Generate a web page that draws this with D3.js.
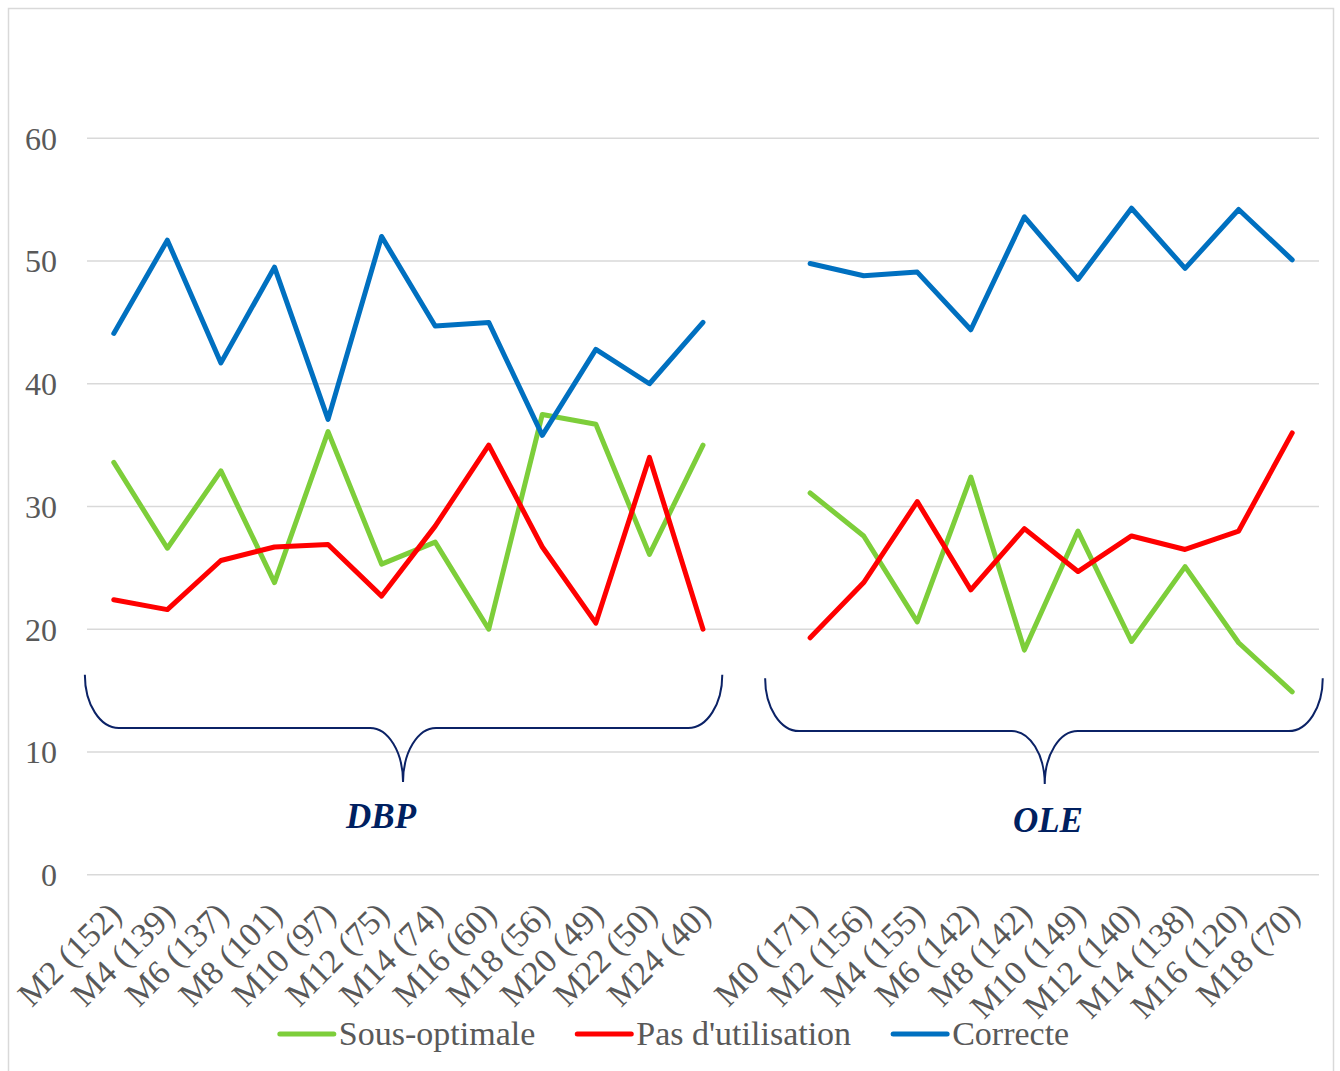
<!DOCTYPE html>
<html>
<head>
<meta charset="utf-8">
<script src="https://cdn.jsdelivr.net/npm/d3@7"></script>
<style>
  html, body { margin: 0; padding: 0; background: #fff; }
  svg { display: block; }
  text { font-family: "Liberation Serif", "Times New Roman", serif; }
</style>
</head>
<body>
<svg id="chart" width="1340" height="1071"></svg>
<script>
// Category labels: DBP follow-up visits, an empty separator slot, then OLE visits
const dbpLabels = ["M2 (152)", "M4 (139)", "M6 (137)", "M8 (101)", "M10 (97)", "M12 (75)",
                   "M14 (74)", "M16 (60)", "M18 (56)", "M20 (49)", "M22 (50)", "M24 (40)"];
const oleLabels = ["M0 (171)", "M2 (156)", "M4 (155)", "M6 (142)", "M8 (142)", "M10 (149)",
                   "M12 (140)", "M14 (138)", "M16 (120)", "M18 (70)"];
const categories = [...dbpLabels, "", ...oleLabels];

// Percentages per series (DBP then OLE)
const sousOptimaleDBP = [33.6, 26.6, 32.9, 23.8, 36.1, 25.3, 27.1, 20.0, 37.5, 36.7, 26.1, 35.0];
const sousOptimaleOLE = [31.1, 27.6, 20.6, 32.4, 18.3, 28.0, 19.0, 25.1, 18.9, 14.9];
const pasUtilDBP      = [22.4, 21.6, 25.6, 26.7, 26.9, 22.7, 28.4, 35.0, 26.7, 20.5, 34.0, 20.0];
const pasUtilOLE      = [19.3, 23.8, 30.4, 23.2, 28.2, 24.7, 27.6, 26.5, 28.0, 36.0];
const correcteDBP     = [44.1, 51.7, 41.7, 49.5, 37.1, 52.0, 44.7, 45.0, 35.8, 42.8, 40.0, 45.0];
const correcteOLE     = [49.8, 48.8, 49.1, 44.4, 53.6, 48.5, 54.3, 49.4, 54.2, 50.1];

const yTicks = [0, 10, 20, 30, 40, 50, 60];

const seriesNames = ["Sous-optimale", "Pas d'utilisation", "Correcte"];
const seriesColors = ["#7dce3a", "#ff0000", "#0070c0"];

// Group annotations (brace) in category-index / value units
const groupNames = ["DBP", "OLE"];
const braceLeft  = [-0.54, 12.16];
const braceRight = [11.36, 22.57];
const braceTip   = [5.40, 17.38];
const braceTop   = [16.3, 16.0];
const braceMid   = [11.95, 11.7];
const braceBottom= [7.55, 7.4];
const groupLabelX = [4.99, 17.44];
const groupLabelY = [3.8, 3.5];

// Build full-length series with a null at the separator slot
const joinSeries = (a, b) => [...a, null, ...b];
const seriesValues = [
  joinSeries(sousOptimaleDBP, sousOptimaleOLE),
  joinSeries(pasUtilDBP, pasUtilOLE),
  joinSeries(correcteDBP, correcteOLE)
];

const svg = d3.select("#chart");

// Outer chart frame
svg.append("rect")
  .attr("x", 8.5).attr("y", 8.5)
  .attr("width", 1325).attr("height", 1080)
  .attr("fill", "#fff").attr("stroke", "#d9d9d9").attr("stroke-width", 1.5);

const plot = { left: 87, right: 1319, top: 138.3, bottom: 874.7 };

const x = d3.scalePoint()
  .domain(d3.range(categories.length))
  .range([plot.left, plot.right])
  .padding(0.5);

const xi = d3.scaleLinear()
  .domain([0, categories.length - 1])
  .range([x(0), x(categories.length - 1)]);

const y = d3.scaleLinear()
  .domain([0, 60])
  .range([plot.bottom, plot.top]);

// Horizontal gridlines
svg.append("g")
  .selectAll("line")
  .data(yTicks)
  .join("line")
  .attr("x1", plot.left).attr("x2", plot.right)
  .attr("y1", d => y(d)).attr("y2", d => y(d))
  .attr("stroke", "#d9d9d9").attr("stroke-width", 1.5);

// Y axis labels
const yAxis = svg.append("g")
  .attr("transform", `translate(${plot.left - 30},0)`)
  .call(d3.axisLeft(y).tickValues(yTicks).tickSize(0).tickPadding(0));
yAxis.select(".domain").remove();
yAxis.selectAll("text")
  .attr("font-family", "Liberation Serif, serif")
  .attr("font-size", 32)
  .attr("fill", "#595959")
  .attr("dy", "0.34em");

// X axis labels, rotated
const xAxis = svg.append("g")
  .attr("transform", `translate(0,${plot.bottom})`)
  .call(d3.axisBottom(x).tickFormat(i => categories[i]).tickSize(0).tickPadding(0));
xAxis.select(".domain").remove();
xAxis.selectAll("text")
  .attr("font-family", "Liberation Serif, serif")
  .attr("font-size", 34)
  .attr("fill", "#595959")
  .attr("text-anchor", "end")
  .attr("dy", 0)
  .attr("y", 0)
  .attr("transform", "translate(9,42) rotate(-45)");

// Series lines
const line = d3.line()
  .defined(d => d != null)
  .x((d, i) => x(i))
  .y(d => y(d));

svg.append("g")
  .selectAll("path")
  .data(seriesValues)
  .join("path")
  .attr("d", d => line(d))
  .attr("fill", "none")
  .attr("stroke", (d, i) => seriesColors[i])
  .attr("stroke-width", 5)
  .attr("stroke-linejoin", "round")
  .attr("stroke-linecap", "round");

// Group braces
function bracePath(k) {
  const x0 = xi(braceLeft[k]), x1 = xi(braceRight[k]), xm = xi(braceTip[k]);
  const yt = y(braceTop[k]), ym = y(braceMid[k]), yb = y(braceBottom[k]);
  const r = 34;
  const rx = 33;
  return `M${x0},${yt}` +
    `A${r},${ym - yt} 0 0 0 ${x0 + r},${ym}` +
    `L${xm - rx},${ym}` +
    `A${rx},${yb - ym} 0 0 1 ${xm},${yb}` +
    `A${rx},${yb - ym} 0 0 1 ${xm + rx},${ym}` +
    `L${x1 - r},${ym}` +
    `A${r},${ym - yt} 0 0 0 ${x1},${yt}`;
}

svg.append("g")
  .selectAll("path")
  .data(groupNames)
  .join("path")
  .attr("d", (d, k) => bracePath(k))
  .attr("fill", "none")
  .attr("stroke", "#0b2266")
  .attr("stroke-width", 2);

svg.append("g")
  .selectAll("text")
  .data(groupNames)
  .join("text")
  .attr("x", (d, k) => xi(groupLabelX[k]))
  .attr("y", (d, k) => y(groupLabelY[k]))
  .attr("text-anchor", "middle")
  .attr("font-family", "Liberation Serif, serif")
  .attr("font-weight", "bold")
  .attr("font-style", "italic")
  .attr("font-size", 35)
  .attr("fill", "#002060")
  .text(d => d);

// Legend
const legend = svg.append("g");
const legendY = 1034;
const items = legend.selectAll("g")
  .data(seriesNames)
  .join("g");
items.append("line")
  .attr("x1", 0).attr("x2", 54)
  .attr("y1", legendY).attr("y2", legendY)
  .attr("stroke", (d, i) => seriesColors[i])
  .attr("stroke-width", 5)
  .attr("stroke-linecap", "round");
items.append("text")
  .attr("x", 59)
  .attr("y", legendY + 11)
  .attr("font-family", "Liberation Serif, serif")
  .attr("font-size", 34)
  .attr("fill", "#595959")
  .text(d => d);

let offset = 0;
const widths = [];
items.each(function () {
  const w = 59 + this.querySelector("text").getComputedTextLength();
  widths.push(w);
});
const gap = 42;
const total = d3.sum(widths) + gap * (widths.length - 1);
let start = 674.5 - total / 2;
items.attr("transform", (d, i) => {
  const tx = start + offset;
  offset += widths[i] + gap;
  return `translate(${tx},0)`;
});
</script>
</body>
</html>
